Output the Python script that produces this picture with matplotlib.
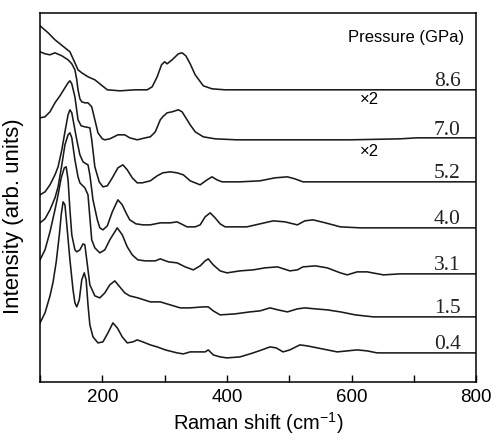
import numpy as np
import matplotlib
matplotlib.use("Agg")
import matplotlib.pyplot as plt
from matplotlib.ticker import MultipleLocator

# ── Data ──────────────────────────────────────────────────────
# each spectrum: Raman shift (cm-1) and intensity above its own flat baseline
PRESSURES = ["8.6", "7.0", "5.2", "4.0", "3.1", "1.5", "0.4"]
OFFSETS   = [292, 243, 200, 154, 108, 65, 29]   # vertical stacking offsets

shift_86 = [100, 113, 124, 148, 156, 161, 167, 177, 188, 196, 208, 228, 253, 272,
            280, 288, 295, 300, 304, 312, 322, 328, 334, 341, 349, 362, 376, 397, 800]
int_86   = [64, 57, 50, 38, 27, 20, 17, 13, 10, 6, 0, -1, 0, 0,
            3, 13, 25, 28, 26, 30, 36, 37, 34, 26, 15, 4, 1, 0, 0]

shift_70 = [100, 108, 116, 124, 135, 145, 151, 156, 159, 161, 164, 167, 172, 177, 183,
            188, 193, 200, 204, 212, 225, 236, 244, 256, 269, 277, 285, 293, 297, 304,
            312, 322, 328, 333, 341, 349, 362, 381, 416, 453, 517, 598, 678, 705, 800]
int_70   = [87, 85, 84, 86, 83, 79, 75, 69, 59, 49, 40, 37, 36, 36, 32,
            19, 6, 0, -1, 0, 4, 4, 1, -1, 1, 2, 7, 19, 22, 26,
            27, 29, 27, 22, 14, 7, 2, 0, -1, -1, -1, -1, 0, 1, 1]

shift_52 = [100, 108, 116, 124, 132, 140, 145, 148, 151, 156, 161, 166, 172, 180, 183,
            188, 195, 201, 208, 216, 225, 233, 240, 248, 256, 264, 277, 288, 297, 309,
            320, 330, 341, 357, 368, 376, 384, 392, 421, 453, 477, 497, 509, 522, 800]
int_52   = [64, 65, 70, 79, 86, 94, 99, 101, 98, 85, 62, 56, 55, 54, 42,
            15, 0, -5, -4, 4, 14, 17, 12, 4, -1, -1, 1, 6, 9, 10,
            9, 7, 1, -3, 2, 5, 2, 0, 0, 1, 4, 5, 3, 0, 0]

shift_40 = [100, 108, 116, 124, 129, 135, 140, 145, 148, 151, 156, 159, 164, 169, 174,
            177, 180, 185, 192, 196, 201, 208, 216, 225, 232, 238, 244, 254, 265, 277,
            293, 309, 320, 336, 349, 357, 365, 373, 381, 389, 397, 432, 453, 474, 493,
            513, 525, 538, 558, 582, 614, 651, 800]
int_40   = [33, 36, 43, 53, 61, 78, 96, 113, 118, 115, 98, 88, 73, 66, 64,
            63, 53, 28, 8, 0, -2, 2, 16, 28, 23, 15, 8, 4, 3, 3,
            5, 5, 6, 1, 1, 3, 11, 15, 10, 4, 1, 1, 4, 7, 6,
            3, 7, 8, 5, 1, 0, 0, 0]

shift_31 = [100, 108, 116, 124, 129, 135, 140, 145, 148, 151, 156, 161, 164, 172, 177,
            183, 188, 196, 204, 212, 224, 232, 240, 248, 257, 269, 285, 293, 306, 320,
            333, 346, 357, 365, 370, 378, 389, 400, 421, 442, 461, 481, 501, 513, 522,
            542, 561, 582, 593, 609, 625, 651, 678, 800]
int_31   = [51, 55, 64, 76, 87, 109, 129, 139, 141, 136, 114, 97, 91, 86, 79,
            34, 26, 21, 24, 34, 46, 39, 27, 19, 14, 13, 13, 15, 12, 11,
            7, 4, 8, 13, 15, 9, 3, 1, 3, 4, 6, 7, 3, 4, 7,
            8, 6, 1, -1, 2, 2, -1, 0, 0]

shift_15 = [100, 108, 116, 124, 129, 134, 139, 142, 145, 148, 151, 156, 159, 164, 169,
            172, 175, 180, 188, 196, 204, 212, 220, 228, 236, 244, 257, 277, 293, 309,
            325, 341, 362, 370, 378, 389, 413, 437, 453, 469, 482, 497, 513, 525, 542,
            561, 582, 606, 635, 800]
int_15   = [57, 67, 85, 107, 122, 139, 149, 150, 137, 107, 82, 67, 65, 67, 73,
            72, 57, 32, 21, 19, 24, 32, 36, 30, 24, 21, 19, 15, 15, 12,
            9, 9, 10, 10, 6, 2, 3, 5, 6, 9, 7, 5, 8, 9, 8,
            7, 5, 2, 0, 0]

shift_04 = [100, 108, 116, 121, 126, 131, 134, 137, 140, 143, 148, 153, 156, 159, 163,
            167, 171, 174, 177, 180, 185, 193, 201, 209, 217, 224, 232, 240, 249, 256,
            265, 277, 288, 301, 320, 330, 341, 352, 365, 370, 378, 389, 400, 421, 442,
            456, 469, 479, 490, 501, 517, 529, 545, 561, 577, 593, 609, 625, 641, 800]
int_04   = [30, 40, 57, 71, 91, 118, 138, 151, 148, 128, 93, 63, 50, 46, 53,
            73, 80, 73, 48, 28, 16, 10, 11, 20, 30, 25, 16, 10, 11, 13,
            11, 8, 6, 3, 0, -1, 1, 1, 1, 3, -2, -4, -5, -4, 0,
            3, 6, 5, 1, 3, 8, 7, 5, 3, 1, 2, 3, 2, 0, 0]

SHIFTS      = [shift_86, shift_70, shift_52, shift_40, shift_31, shift_15, shift_04]
INTENSITIES = [int_86, int_70, int_52, int_40, int_31, int_15, int_04]
SCALED      = {"7.0": 282, "5.2": 230}   # spectra shown x2 -> label height

# ── Plot ──────────────────────────────────────────────────────
plt.rcParams["font.family"] = ["Liberation Sans", "DejaVu Sans"]
SERIF = ["Liberation Serif", "DejaVu Serif"]

fig = plt.figure(figsize=(4.94, 4.41), dpi=100)
ax = fig.add_axes([0.081, 0.134, 0.883, 0.837])

for p, off, x, y in zip(PRESSURES, OFFSETS, SHIFTS, INTENSITIES):
    ax.plot(x, np.array(y) + off, color="#1a1a1a", linewidth=1.15,
            solid_joinstyle="round")
    ax.text(775, off + 4, p, ha="right", va="baseline", fontsize=15.5,
            family=SERIF, color="#222222")
    if p in SCALED:
        ax.text(628, SCALED[p], "×2", ha="center", va="center", fontsize=12)

ax.text(781, 344, "Pressure (GPa)", ha="right", va="center", fontsize=12)

ax.set_xlim(100, 800)
ax.set_ylim(0, 369)
ax.xaxis.set_major_locator(MultipleLocator(200))
ax.xaxis.set_minor_locator(MultipleLocator(100))
ax.tick_params(axis="x", which="both", direction="in", length=5, width=1,
               top=False, labelsize=13.5, pad=5)
ax.set_yticks([])
for spine in ax.spines.values():
    spine.set_linewidth(1.1)

ax.set_xlabel("Raman shift (cm$^{\\mathregular{-1}}$)", fontsize=14.5, labelpad=3)
ax.set_ylabel("Intensity (arb. units)", fontsize=16)
ax.yaxis.set_label_coords(-0.036, 0.45)

fig.savefig("out.png", dpi=100)
